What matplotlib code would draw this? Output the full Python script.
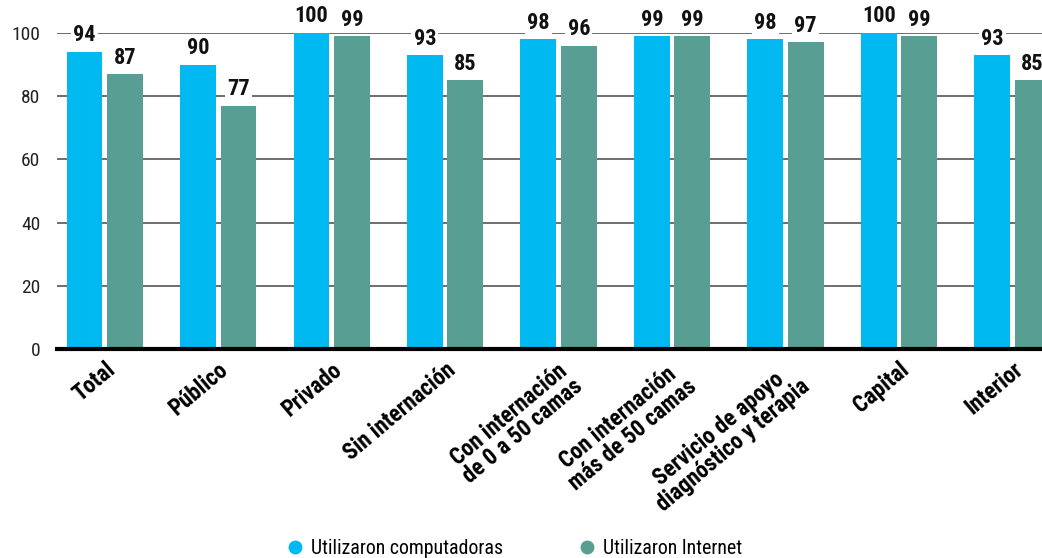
import matplotlib
matplotlib.use("Agg")
import matplotlib.pyplot as plt
import matplotlib.font_manager as fm
import matplotlib.transforms as mtransforms
import numpy as np
from matplotlib.lines import Line2D

categories = ["Total", "Público", "Privado", "Sin internación",
              "Con internación\nde 0 a 50 camas", "Con internación\nmás de 50 camas",
              "Servicio de apoyo\ndiagnóstico y terapia", "Capital", "Interior"]
computadoras = [94, 90, 100, 93, 98, 99, 98, 100, 93]
internet = [87, 77, 99, 85, 96, 99, 97, 99, 85]
series_names = ["Utilizaron computadoras", "Utilizaron Internet"]
yticks = [0, 20, 40, 60, 80, 100]

BLUE = "#00B9F0"
GREEN = "#589E92"

names = {f.name for f in fm.fontManager.ttflist}
FONT = None
for cand in ["Roboto Condensed", "Liberation Sans Narrow", "Open Sans Condensed"]:
    if cand in names:
        FONT = cand
        break
if FONT is None:
    FONT = "Roboto"
plt.rcParams['font.family'] = [FONT, "DejaVu Sans"]

W, H = 1042, 558
fig = plt.figure(figsize=(W/100, H/100), dpi=100)
ax = fig.add_axes([57/W, 1-349/H, 1-57/W, (349-33)/H])

x = np.arange(len(categories))
bw = 0.3155
off = 0.1785
b1 = ax.bar(x - off, computadoras, bw, color=BLUE, zorder=3)
b2 = ax.bar(x + off, internet, bw, color=GREEN, zorder=3)

ax.set_xlim(-0.421, 8.261)
ax.set_ylim(0, 100)
ax.set_yticks(yticks)
ax.set_yticklabels([str(t) for t in yticks], fontsize=14, color="#222222")
ax.tick_params(axis='y', length=0, pad=12)
ax.yaxis.grid(True, color="#555555", linewidth=1.2, zorder=0)
ax.set_axisbelow(True)
for s in ["top", "right", "left"]:
    ax.spines[s].set_visible(False)
ax.spines["bottom"].set_linewidth(3)
ax.spines["bottom"].set_color("black")
ax.spines["bottom"].set_zorder(5)

ax.set_xticks(x)
ax.set_xticklabels(categories, rotation=40, ha="right", va="top",
                   rotation_mode="anchor", linespacing=0.95,
                   fontsize=16.5, fontweight="bold", multialignment="center")
ax.tick_params(axis='x', length=0, pad=6.5)

for bars, vals in [(b1, computadoras), (b2, internet)]:
    for r, v in zip(bars, vals):
        cx = r.get_x() + r.get_width()/2
        ax.annotate(str(v), (cx, v), xytext=(0, 4),
                    textcoords="offset points", ha="center", va="bottom",
                    fontsize=16, fontweight="bold", color="#111111", zorder=6,
                    annotation_clip=False,
                    bbox=dict(boxstyle="square,pad=0.1", fc="white", ec="none"))

handles = [Line2D([0], [0], marker='o', color='none', markerfacecolor=BLUE,
                  markeredgecolor='none', markersize=10),
           Line2D([0], [0], marker='o', color='none', markerfacecolor=GREEN,
                  markeredgecolor='none', markersize=10)]
fig.legend(handles, series_names, loc="center", bbox_to_anchor=(0.492, 1-548/H),
           ncol=2, frameon=False, fontsize=14.3, handletextpad=0.2,
           columnspacing=3.6, handlelength=1.2)

fig.savefig("out.png", dpi=100)
